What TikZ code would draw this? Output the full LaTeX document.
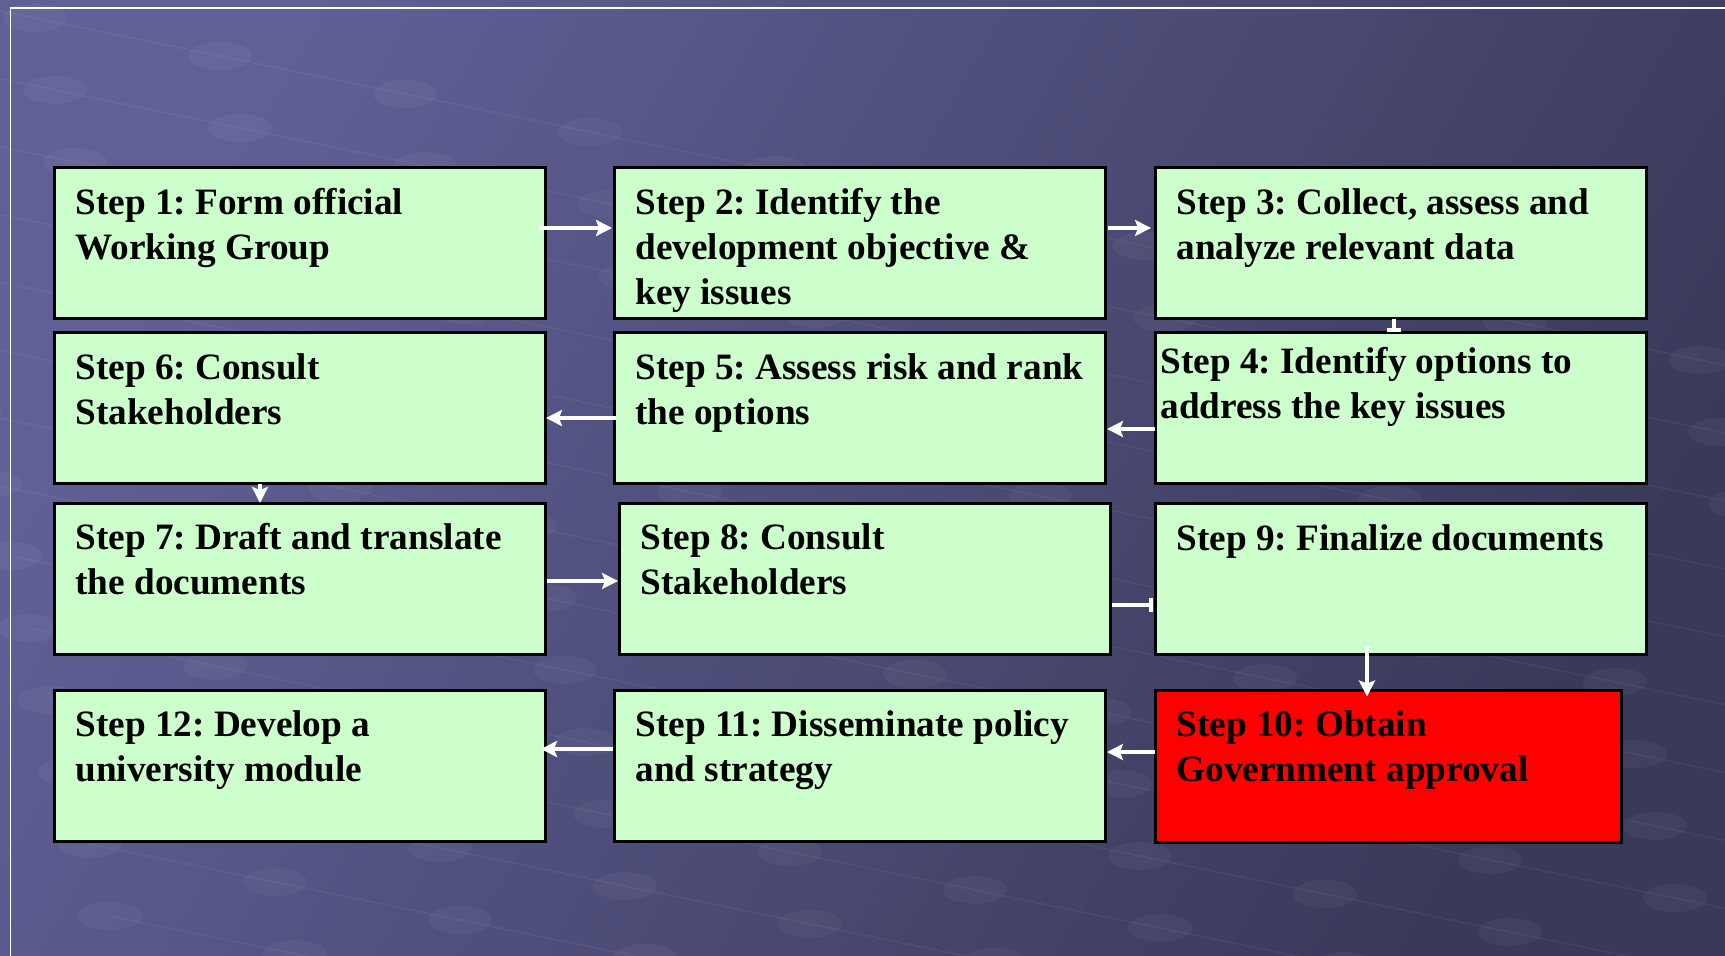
\documentclass[tikz,border=0pt]{standalone}
\usepackage{fontspec}
\setmainfont{Liberation Serif}
\usetikzlibrary{arrows.meta,calc}

\definecolor{slidetop}{HTML}{606097}
\definecolor{slidebot}{HTML}{393959}
\definecolor{stepgreen}{HTML}{CCFFCC}
\definecolor{stepred}{HTML}{FF0000}

\tikzset{
  stepbox/.style={draw=black, line width=0.06cm, fill=stepgreen,
    minimum width=9.84cm, minimum height=3.04cm, inner sep=0pt, outer sep=0pt},
  steptext/.style={anchor=north west, align=left, inner sep=0pt,
    font=\fontsize{21.2}{25.5}\selectfont\bfseries\frenchspacing, execute at begin node=\strut},
  flow/.style={white, line width=0.08cm, -{Stealth[length=0.32cm, width=0.32cm, inset=0.06cm]}},
  stub/.style={white, line width=0.08cm, -{Bar[width=0.28cm]}}
}

\begin{document}
\begin{tikzpicture}[x=0.02cm, y=-0.02cm]
            % slide background
            \useasboundingbox (0,0) rectangle (1725,956);
            \shade[top color=slidetop, bottom color=slidebot, shading angle=60] (0,0) rectangle (1725,956);
            \foreach \r in {0,...,13}{
              \draw[white, opacity=0.05, line width=0.03cm] ({-150+\r*20},{-20+\r*72}) -- ++(2035,418);
              \foreach \c in {0,...,10}
                \fill[white, opacity=0.04] ({-150+\c*185+\r*20},{-20+\r*72+\c*38}) ellipse (32 and 14);
            }
            \draw[white, line width=0.04cm] (1725,8.5) -- (10.5,8.5) -- (10.5,956);

            % row 1
            \node[stepbox] (b1) at (300,243) {};
            \node[steptext] (t1) at ($(b1.north west)+(21,21)$) {Step 1: Form official\\Working Group};
            \node[stepbox] (b2) at (860,243) {};
            \node[steptext] (t2) at ($(b2.north west)+(21,21)$) {Step 2: Identify the\\development objective \&\\key issues};
            \node[stepbox] (b3) at (1401,243) {};
            \node[steptext] (t3) at ($(b3.north west)+(21,21)$) {Step 3: Collect, assess and\\analyze relevant data};

            % row 2
            \node[stepbox] (b6) at (300,408) {};
            \node[steptext] (t6) at ($(b6.north west)+(21,21)$) {Step 6: Consult\\Stakeholders};
            \node[stepbox] (b5) at (860,408) {};
            \node[steptext] (t5) at ($(b5.north west)+(21,21)$) {Step 5: Assess risk and rank\\the options};
            \node[stepbox] (b4) at (1401,408) {};
            \node[steptext] (t4) at ($(b4.north west)+(5,15)$) {Step 4: Identify options to\\address the key issues};

            % row 3
            \node[stepbox] (b7) at (300,579) {};
            \node[steptext] (t7) at ($(b7.north west)+(21,20)$) {Step 7: Draft and translate\\the documents};
            \node[stepbox] (b8) at (865,579) {};
            \node[steptext] (t8) at ($(b8.north west)+(21,20)$) {Step 8: Consult\\Stakeholders};
            \node[stepbox] (b9) at (1401,579) {};
            \node[steptext] (t9) at ($(b9.north west)+(21,16)$) {Step 9: Finalize documents};

            % row 4
            \node[stepbox] (b12) at (300,766) {};
            \node[steptext] (t12) at ($(b12.north west)+(21,20)$) {Step 12: Develop a\\university module};
            \node[stepbox] (b11) at (860,766) {};
            \node[steptext] (t11) at ($(b11.north west)+(21,20)$) {Step 11: Disseminate policy\\and strategy};
            \node[stepbox, fill=stepred, minimum width=9.34cm] (b10) at (1388.5,766.5) {};
            \node[steptext] (t10) at ($(b10.north west)+(21,20)$) {Step 10: Obtain\\Government approval};

            % connectors
            \draw[flow] ($(b1.east)+(-7,-15)$) -- ($(b2.west)+(-2,-15)$);
            \draw[flow] ($(b2.east)+(2,-15)$) -- ($(b3.west)+(-4,-15)$);
            \draw[stub] ($(b3.south)+(-7,0)$) -- ($(b4.north)+(-7,0)$);
            \draw[flow] ($(b4.west)+(0,21)$) -- ($(b5.east)+(1,21)$);
            \draw[flow] ($(b5.west)+(2,10)$) -- ($(b6.east)+(0,10)$);
            \draw[flow] ($(b6.south)+(-40,0)$) -- ($(b7.north)+(-40,0)$);
            \draw[flow] ($(b7.east)+(1,2)$) -- ($(b8.west)+(-1,2)$);
            \draw[stub] ($(b8.east)+(1,26)$) -- ($(b9.west)+(-2,26)$);
            \draw[flow] ($(b9.south)+(-34,-9)$) -- ($(b10.north)+(-21.5,6)$);
            \draw[flow] ($(b10.west)+(0,-14.5)$) -- ($(b11.east)+(1,-14)$);
            \draw[flow] ($(b11.west)+(-1,-17)$) -- ($(b12.east)+(-5,-17)$);
\end{tikzpicture}
\end{document}
